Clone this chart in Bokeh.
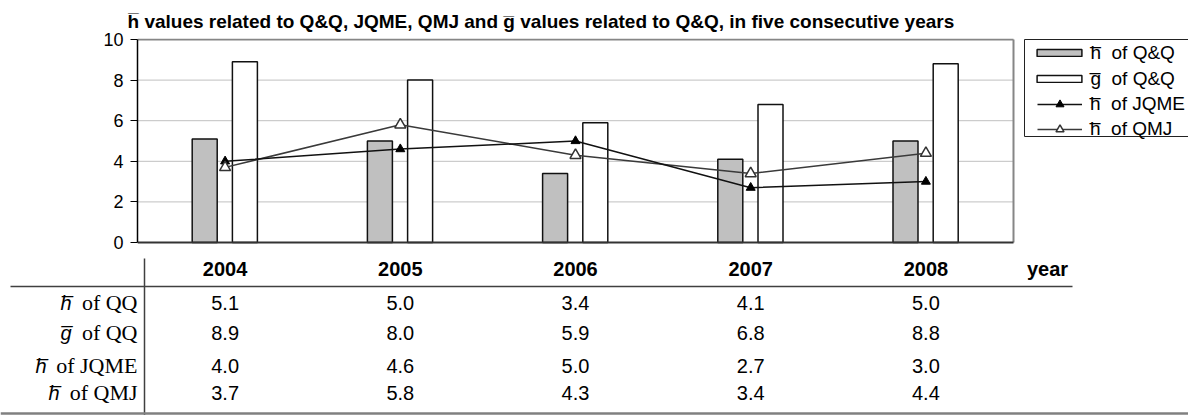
from bokeh.plotting import figure
from bokeh.layouts import column
from bokeh.models import Range1d, ColumnDataSource, Legend, LegendItem, FixedTicker, Span, Title
from bokeh.core.properties import value
from bokeh.transform import dodge
from bokeh.embed import file_html
from bokeh.resources import INLINE

# ---------------- data ----------------
years = ["2004", "2005", "2006", "2007", "2008"]
h_qq = [5.1, 5.0, 3.4, 4.1, 5.0]
g_qq = [8.9, 8.0, 5.9, 6.8, 8.8]
h_jqme = [4.0, 4.6, 5.0, 2.7, 3.0]
h_qmj = [3.7, 5.8, 4.3, 3.4, 4.4]
y_ticks = [0, 2, 4, 6, 8, 10]
H_BAR = "h\u0305"
G_BAR = "g\u0305"
row_syms = [H_BAR, G_BAR, H_BAR, H_BAR]
row_names = ["of QQ", "of QQ", "of JQME", "of QMJ"]
legend_labels = [H_BAR + "  of Q&Q", G_BAR + "  of Q&Q", H_BAR + "  of JQME", H_BAR + "  of QMJ"]
title_text = (H_BAR + " values related to Q&Q, JQME, QMJ and " + G_BAR +
              " values related to Q&Q, in five consecutive years")
axis_name = "year"

# ---------------- layout (page pixels) ----------------
W = 1188
TOP_H, CHART_H = 4, 250
TABLE_H = 415 - TOP_H - CHART_H
PL, PR, PT, PB = 137, 1013, 39, 242      # plot area
NCAT = len(years)
cat_px = (PR - PL) / NCAT
ppu = (PB - PT) / 10.0
FONT = "Liberation Sans"


def dx(px):
    return (px - PL) / cat_px - 0.5


def dy(py):
    return (PB - py) / ppu


def no_align(f):
    try:
        f.frame_align = False
    except Exception:
        pass


# ---------------- top border ----------------
ft = figure(width=W, height=TOP_H, output_backend="svg", toolbar_location=None,
            x_range=Range1d(0, W), y_range=Range1d(TOP_H, 0),
            x_axis_location=None, y_axis_location=None, min_border=0)
ft.outline_line_color = None
ft.grid.visible = False
ft.add_layout(Span(location=3, dimension="width", line_color="#808080", line_width=2))
no_align(ft)

# ---------------- chart ----------------
frame_top, frame_bot = 38, 245
pc = figure(width=W, height=CHART_H, output_backend="svg", toolbar_location=None,
            x_range=Range1d(-0.5, dx(W)), y_range=Range1d(dy(frame_bot), dy(frame_top)),
            x_axis_location=None,
            min_border_left=PL, min_border_right=0,
            min_border_top=frame_top - TOP_H, min_border_bottom=TOP_H + CHART_H - frame_bot)
pc.outline_line_color = None
pc.background_fill_color = "white"
pc.border_fill_color = "white"
pc.grid.visible = False
no_align(pc)

title = Title(text=title_text, align="left", offset=-10, standoff=10, vertical_align="top",
              text_font=FONT, text_font_style="bold", text_font_size="19px", text_color="black")
pc.add_layout(title, "above")

ax = pc.yaxis[0]
ax.ticker = FixedTicker(ticks=y_ticks)
ax.bounds = (y_ticks[0], y_ticks[-1])
ax.major_label_text_font = FONT
ax.major_label_text_font_size = "18px"
ax.major_label_text_color = "black"
ax.axis_line_color = "black"
ax.axis_line_width = 1.5
ax.major_tick_line_color = "black"
ax.major_tick_out = 7
ax.major_tick_in = 0
ax.minor_tick_line_color = None
ax.major_label_standoff = 7

idx = list(range(NCAT))
x_lo, x_hi = idx[0] - 0.5, idx[-1] + 0.5
ymax = y_ticks[-1]

pc.segment(x0=[x_lo] * (len(y_ticks) - 2), x1=[x_hi] * (len(y_ticks) - 2),
           y0=y_ticks[1:-1], y1=y_ticks[1:-1], line_color="#c0c0c0", line_width=1)

src = ColumnDataSource(dict(x=idx, h_qq=h_qq, g_qq=g_qq, h_jqme=h_jqme, h_qmj=h_qmj))
bw = 25 / cat_px
r_h = pc.vbar(x=dodge("x", -20.4 / cat_px, range=pc.x_range), top="h_qq", width=bw, source=src,
              fill_color="#c0c0c0", line_color="#111111", line_width=1.5)
r_g = pc.vbar(x=dodge("x", 19.8 / cat_px, range=pc.x_range), top="g_qq", width=bw, source=src,
              fill_color="white", line_color="#111111", line_width=1.5)

pc.segment(x0=[x_lo, x_hi], x1=[x_hi, x_hi], y0=[ymax, 0], y1=[ymax, ymax],
           line_color="#868686", line_width=2)
pc.segment(x0=[x_lo], x1=[x_hi], y0=[0], y1=[0], line_color="#333333", line_width=2)

l_q = pc.line("x", "h_qmj", source=src, line_color="#3a3a3a", line_width=1.5)
l_j = pc.line("x", "h_jqme", source=src, line_color="#111111", line_width=1.5)
m_j = pc.scatter("x", "h_jqme", source=src, marker="triangle", size=9,
                 fill_color="black", line_color="black", line_width=1)
m_q = pc.scatter("x", "h_qmj", source=src, marker="triangle", size=11,
                 fill_color="white", line_color="#333333", line_width=1.5)

pc.quad(left=[dx(1024)], right=[dx(1230)], top=[dy(39)], bottom=[dy(136)],
        fill_color="white", line_color="#222222", line_width=1)

leg_font = dict(label_text_font=FONT, label_text_font_size="19px", label_text_color="black")
legA = Legend(items=[LegendItem(label=legend_labels[0], renderers=[r_h]),
                     LegendItem(label=legend_labels[1], renderers=[r_g])],
              location=(1031.4 - PL, 155.5), glyph_width=56, glyph_height=9,
              label_height=22, spacing=4, padding=0, margin=0, label_standoff=3,
              border_line_color=None, background_fill_alpha=0, **leg_font)
legB = Legend(items=[LegendItem(label=legend_labels[2], renderers=[l_j, m_j]),
                     LegendItem(label=legend_labels[3], renderers=[l_q, m_q])],
              location=(1037 - PL, 105), glyph_width=45, glyph_height=20,
              label_height=22, spacing=3, padding=0, margin=0, label_standoff=8,
              border_line_color=None, background_fill_alpha=0, **leg_font)
pc.add_layout(legA)
pc.add_layout(legB)

# ---------------- table ----------------
y0_tab = TOP_H + CHART_H
fb = figure(width=W, height=TABLE_H, output_backend="svg", toolbar_location=None,
            x_range=Range1d(dx(0), dx(W)), y_range=Range1d(y0_tab + TABLE_H, y0_tab),
            x_axis_location=None, y_axis_location=None, min_border=0)
fb.outline_line_color = None
fb.grid.visible = False
no_align(fb)

header_y = 268
row_y = [302, 332, 365, 392]

fb.segment(x0=[dx(10)], x1=[dx(1072)], y0=[286], y1=[286], line_color="#404040", line_width=1.5)
fb.segment(x0=[dx(144)], x1=[dx(144)], y0=[258], y1=[y0_tab + TABLE_H], line_color="#404040",
           line_width=1.5)
fb.segment(x0=[dx(0)], x1=[dx(W)], y0=[413], y1=[413], line_color="#808080", line_width=2.5)

fb.text(x=idx, y=[header_y] * NCAT, text=years, text_align="center", text_baseline="middle",
        text_font=value(FONT), text_font_style="bold", text_font_size="20px", text_color="black")
fb.text(x=[dx(1047)], y=[header_y], text=[axis_name], text_align="center", text_baseline="middle",
        text_font=value(FONT), text_font_style="bold", text_font_size="20px", text_color="black")

series = [h_qq, g_qq, h_jqme, h_qmj]
vx, vy, vt = [], [], []
for r, vals in enumerate(series):
    for i, v in enumerate(vals):
        vx.append(idx[i])
        vy.append(row_y[r])
        vt.append("%.1f" % v)
fb.text(x=vx, y=vy, text=vt, text_align="center", text_baseline="middle",
        text_font=value(FONT), text_font_size="20px", text_color="black")

fb.text(x=[dx(137)] * 4, y=row_y, text=row_names, text_align="right", text_baseline="middle",
        text_font=value("Liberation Serif"), text_font_size="22px", text_color="black")
sym_right = [71, 71, 46, 59]
fb.text(x=[dx(v) for v in sym_right], y=row_y, text=row_syms, text_align="right",
        text_baseline="middle", text_font=value(FONT), text_font_style="italic",
        text_font_size="20px", text_color="black")

layout = column(ft, pc, fb, spacing=0)
open("out.html", "w").write(file_html(layout, INLINE, title="chart"))
